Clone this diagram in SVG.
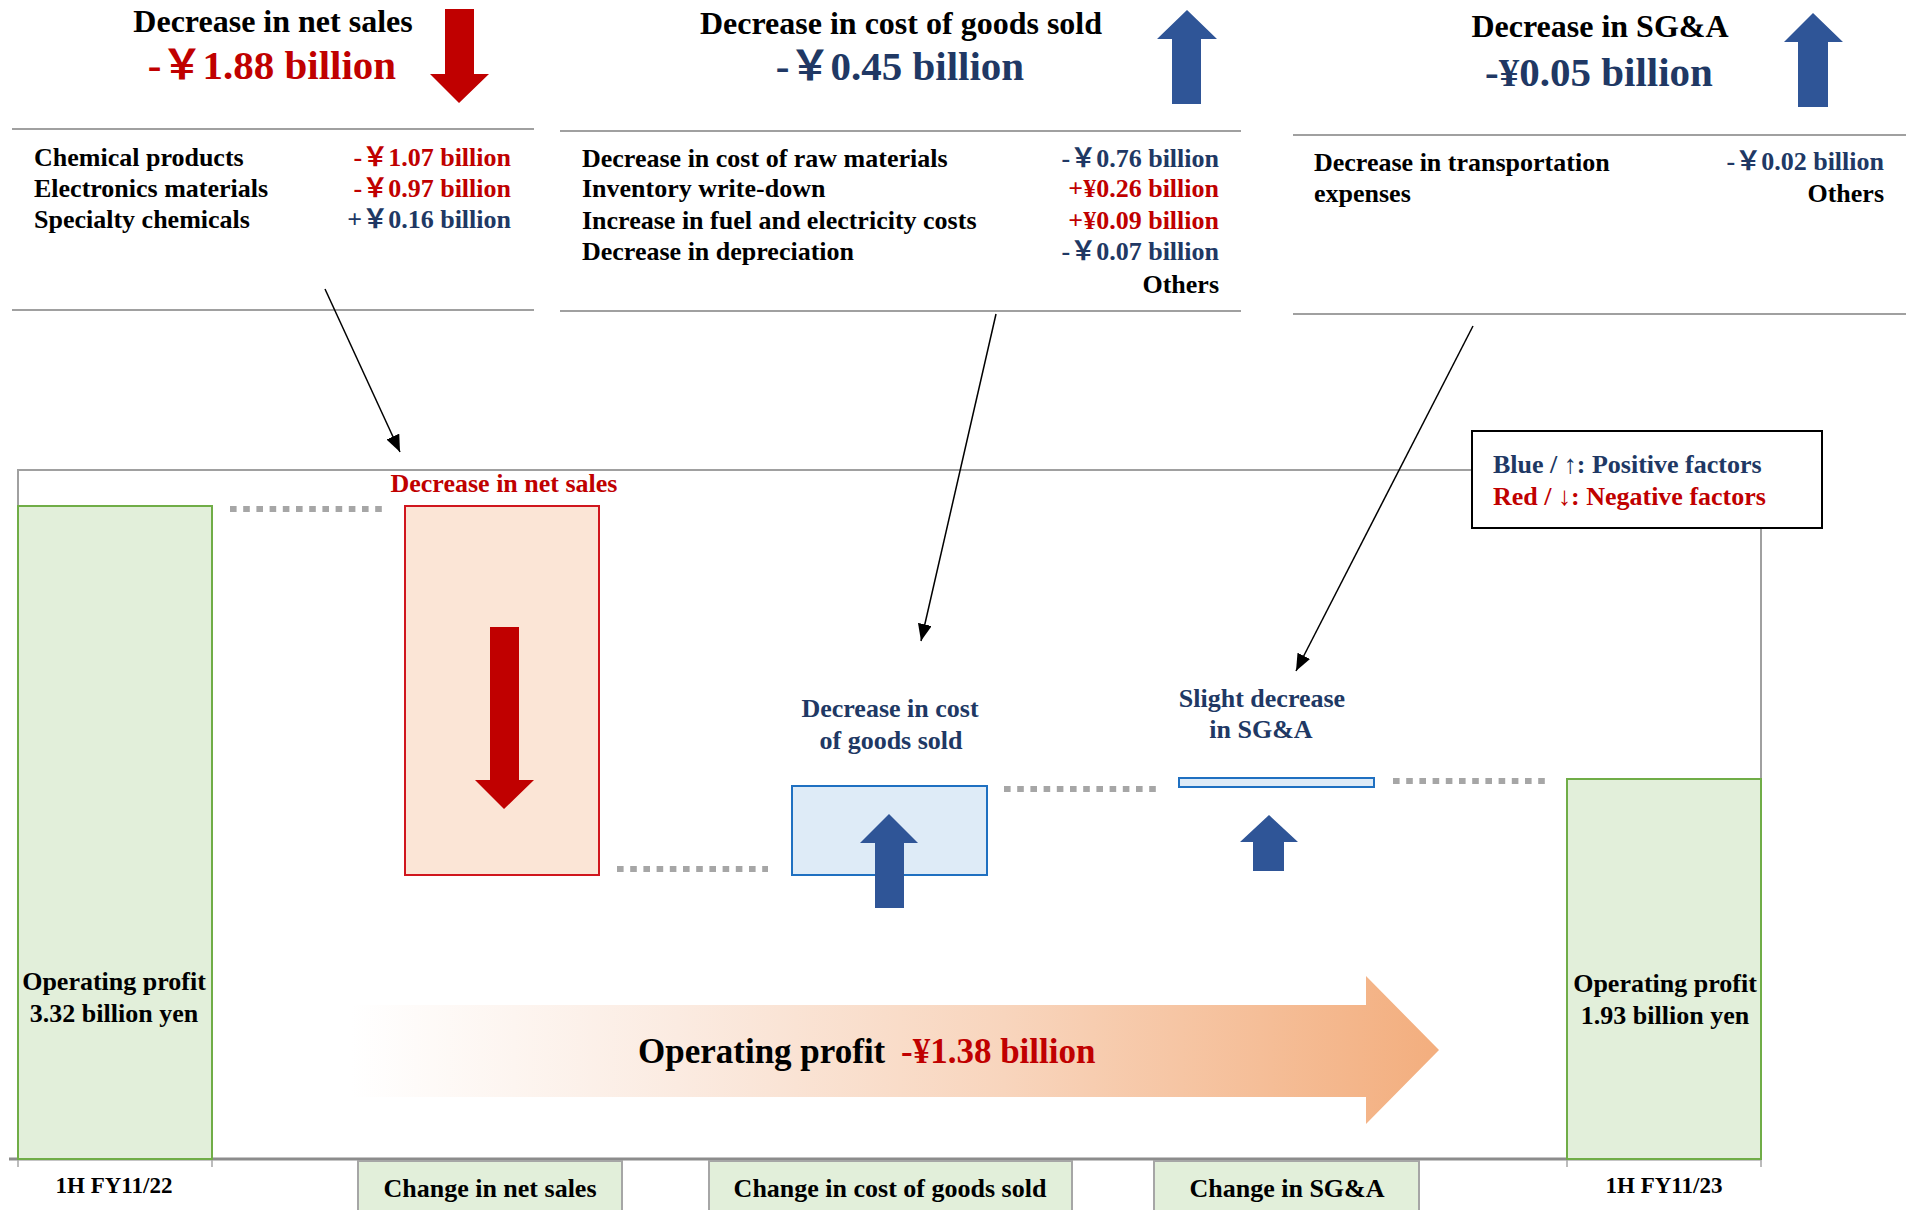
<svg xmlns="http://www.w3.org/2000/svg" width="1906" height="1210" viewBox="0 0 1906 1210">
<style>
.t{font-family:"Liberation Serif","Noto Sans CJK JP",serif;font-weight:bold}
.k{fill:#000}
.r{fill:#C00000}
.n{fill:#203864}
.m{text-anchor:middle}
.e{text-anchor:end}
.s32{font-size:32px}
.s41{font-size:41px}
.s26{font-size:26px}
.s22{font-size:23px}
.s35{font-size:35px}
.sep{stroke:#A0A0A0;stroke-width:2;fill:none}
.dot{stroke:#A6A6A6;stroke-width:6;stroke-dasharray:6.6 6.6;fill:none}
.bar{fill:#E2EFDA;stroke:#70AD47;stroke-width:2}
.cat{fill:#E2EFDA;stroke:#A6A6A6;stroke-width:2}
.up{fill:#2F5597}
.down{fill:#C00000}
.con{stroke:#000;stroke-width:1.5;fill:none}
</style>
<defs>
<marker id="ah" markerUnits="userSpaceOnUse" markerWidth="18" markerHeight="14" refX="17" refY="7" orient="auto">
<path d="M0,0 L17,7 L0,14 z" fill="#000"/>
</marker>
<linearGradient id="og" x1="351" y1="0" x2="1439" y2="0" gradientUnits="userSpaceOnUse">
<stop offset="0" stop-color="#FFFFFF"/>
<stop offset="0.3" stop-color="#FBEBE1"/>
<stop offset="0.6" stop-color="#F8D5BD"/>
<stop offset="1" stop-color="#F3AE7E"/>
</linearGradient>
</defs>
<rect width="1906" height="1210" fill="#fff"/>

<!-- Top section 1: net sales -->
<g id="net-sales-summary">
<text class="t k m s32" x="273" y="32">Decrease in net sales</text>
<text class="t r m s41" x="272" y="79">-￥1.88 billion</text>
<path class="down" d="M445,9 H474 V74 H489 L459,103 L430,74 H445 Z"/>
<line class="sep" x1="12" y1="129" x2="534" y2="129"/>
<line class="sep" x1="12" y1="310" x2="534" y2="310"/>
<text class="t k s26" x="34" y="166">Chemical products</text>
<text class="t k s26" x="34" y="197">Electronics materials</text>
<text class="t k s26" x="34" y="228">Specialty chemicals</text>
<text class="t r e s26" x="511" y="166">-￥1.07 billion</text>
<text class="t r e s26" x="511" y="197">-￥0.97 billion</text>
<text class="t n e s26" x="511" y="228">+￥0.16 billion</text>
</g>

<!-- Top section 2: COGS -->
<g id="cogs-summary">
<text class="t k m s32" x="901" y="34">Decrease in cost of goods sold</text>
<text class="t n m s41" x="900" y="80">-￥0.45 billion</text>
<path class="up" d="M1172,104 V39 H1157 L1187,10 L1217,39 H1201 V104 Z"/>
<line class="sep" x1="560" y1="131" x2="1241" y2="131"/>
<line class="sep" x1="560" y1="311" x2="1241" y2="311"/>
<text class="t k s26" x="582" y="167">Decrease in cost of raw materials</text>
<text class="t k s26" x="582" y="197">Inventory write-down</text>
<text class="t k s26" x="582" y="229">Increase in fuel and electricity costs</text>
<text class="t k s26" x="582" y="260">Decrease in depreciation</text>
<text class="t n e s26" x="1219" y="167">-￥0.76 billion</text>
<text class="t r e s26" x="1219" y="197">+¥0.26 billion</text>
<text class="t r e s26" x="1219" y="229">+¥0.09 billion</text>
<text class="t n e s26" x="1219" y="260">-￥0.07 billion</text>
<text class="t k e s26" x="1219" y="293">Others</text>
</g>

<!-- Top section 3: SG&A -->
<g id="sga-summary">
<text class="t k m s32" x="1600" y="37">Decrease in SG&amp;A</text>
<text class="t n m s41" x="1599" y="86">-¥0.05 billion</text>
<path class="up" d="M1798,107 V42 H1784 L1813,13 L1843,42 H1828 V107 Z"/>
<line class="sep" x1="1293" y1="135" x2="1906" y2="135"/>
<line class="sep" x1="1293" y1="314" x2="1906" y2="314"/>
<text class="t k s26" x="1314" y="171">Decrease in transportation</text>
<text class="t k s26" x="1314" y="202">expenses</text>
<text class="t n e s26" x="1884" y="170">-￥0.02 billion</text>
<text class="t k e s26" x="1884" y="202">Others</text>
</g>

<!-- Chart frame -->
<g id="chart-frame">
<path class="sep" d="M18,1159 V470 H1472"/>
<path class="sep" d="M1761,528 V1159"/>
<line x1="9" y1="1159" x2="1761" y2="1159" stroke="#8C8C8C" stroke-width="3"/>
<path d="M18,1159 V1167 M212,1159 V1167 M1567,1159 V1167 M1761,1159 V1167" stroke="#A6A6A6" stroke-width="1.5"/>
</g>

<!-- Dotted connectors between bars -->
<g id="dotted-links">
<line class="dot" x1="230" y1="509" x2="383" y2="509"/>
<line class="dot" x1="617" y1="869" x2="768" y2="869"/>
<line class="dot" x1="1004" y1="789" x2="1156" y2="789"/>
<line class="dot" x1="1393" y1="781" x2="1545" y2="781"/>
</g>

<!-- Gradient arrow -->
<g id="op-profit-change">
<path d="M351,1005 H1366 V976 L1439,1050 L1366,1124 V1097 H351 Z" fill="url(#og)"/>
<text class="t s35" y="1063"><tspan class="k" x="638">Operating profit</tspan><tspan class="r" x="901">-¥1.38 billion</tspan></text>
</g>

<!-- Bars -->
<g id="bar-1h-fy11-22">
<rect class="bar" x="18" y="506" width="194" height="653"/>
<text class="t k m s26" x="114" y="990">Operating profit</text>
<text class="t k m s26" x="114" y="1022">3.32 billion yen</text>
<text class="t k m s22" x="114" y="1193">1H FY11/22</text>
</g>

<g id="bar-net-sales">
<text class="t r m s26" x="504" y="492">Decrease in net sales</text>
<rect x="405" y="506" width="194" height="369" fill="#FBE5D6" stroke="#D0161E" stroke-width="2"/>
<path class="down" d="M490,627 H519 V780 H534 L504,809 L475,780 H490 Z"/>
</g>

<g id="bar-cogs">
<text class="t n m s26" x="890" y="717">Decrease in cost</text>
<text class="t n m s26" x="891" y="749">of goods sold</text>
<rect x="792" y="786" width="195" height="89" fill="#DEEBF7" stroke="#1F70C1" stroke-width="2"/>
<path class="up" d="M875,908 V843 H860 L889,814 L918,843 H904 V908 Z"/>
</g>

<g id="bar-sga">
<text class="t n m s26" x="1262" y="707">Slight decrease</text>
<text class="t n m s26" x="1261" y="738">in SG&amp;A</text>
<rect x="1179" y="778" width="195" height="9" fill="#DEEBF7" stroke="#1F70C1" stroke-width="2"/>
<path class="up" d="M1253,871 V842 H1240 L1269,815 L1298,842 H1284 V871 Z"/>
</g>

<g id="bar-1h-fy11-23">
<rect class="bar" x="1567" y="779" width="194" height="380"/>
<text class="t k m s26" x="1665" y="992">Operating profit</text>
<text class="t k m s26" x="1665" y="1024">1.93 billion yen</text>
<text class="t k m s22" x="1664" y="1193">1H FY11/23</text>
</g>

<!-- Category boxes -->
<g id="cat-net-sales">
<rect class="cat" x="358" y="1161" width="264" height="60"/>
<text class="t k m s26" x="490" y="1197">Change in net sales</text>
</g>
<g id="cat-cogs">
<rect class="cat" x="709" y="1161" width="363" height="60"/>
<text class="t k m s26" x="890" y="1197">Change in cost of goods sold</text>
</g>
<g id="cat-sga">
<rect class="cat" x="1154" y="1161" width="265" height="60"/>
<text class="t k m s26" x="1287" y="1197">Change in SG&amp;A</text>
</g>

<!-- Legend -->
<g id="legend">
<rect x="1472" y="431" width="350" height="97" fill="#fff" stroke="#000" stroke-width="2"/>
<text class="t n s26" x="1493" y="473">Blue / ↑: Positive factors</text>
<text class="t r s26" x="1493" y="505">Red / ↓: Negative factors</text>
</g>

<!-- Callout connectors -->
<g id="connectors">
<line class="con" x1="325" y1="289" x2="400" y2="452" marker-end="url(#ah)"/>
<line class="con" x1="996" y1="314" x2="921" y2="641" marker-end="url(#ah)"/>
<line class="con" x1="1473" y1="326" x2="1296" y2="671" marker-end="url(#ah)"/>
</g>
</svg>
